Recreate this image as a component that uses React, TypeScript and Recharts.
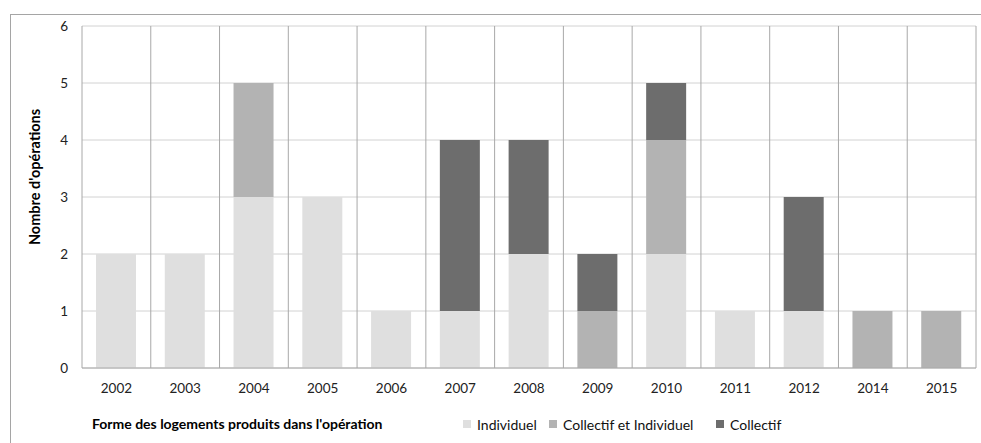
import { BarChart, Bar, XAxis, YAxis, CartesianGrid } from 'recharts'

const years = ['2002', '2003', '2004', '2005', '2006', '2007', '2008', '2009', '2010', '2011', '2012', '2014', '2015']
const individuel = [2, 2, 3, 3, 1, 1, 2, 0, 2, 1, 1, 0, 0]
const collectifEtIndividuel = [0, 0, 2, 0, 0, 0, 0, 1, 2, 0, 0, 1, 1]
const collectif = [0, 0, 0, 0, 0, 3, 2, 1, 1, 0, 2, 0, 0]
const yTicks = [0, 1, 2, 3, 4, 5, 6]

const series = [
  { key: 'individuel', name: 'Individuel', color: '#dfdfdf' },
  { key: 'collectifEtIndividuel', name: 'Collectif et Individuel', color: '#b3b3b3' },
  { key: 'collectif', name: 'Collectif', color: '#6d6d6d' },
]

// x position of each legend swatch
const legendX = [463, 549, 716]

const data = years.map((year, i) => ({
  year,
  individuel: individuel[i],
  collectifEtIndividuel: collectifEtIndividuel[i],
  collectif: collectif[i],
}))

const font = 'Lato, "Open Sans", sans-serif'

export default function App() {
  return (
    <div
      style={{
        position: 'absolute',
        left: 0,
        top: 0,
        width: 981,
        height: 443,
        background: '#fff',
        fontFamily: font,
        overflow: 'hidden',
      }}
    >
      <div
        style={{
          position: 'absolute',
          left: 10,
          top: 14,
          width: 990,
          height: 440,
          borderTop: '1.5px solid #a5a5a5',
          borderLeft: '1.5px solid #a5a5a5',
        }}
      />
      <BarChart
        width={981}
        height={443}
        data={data}
        margin={{ top: 26, right: 5, bottom: 45, left: 20 }}
        style={{ position: 'absolute', left: 0, top: 0 }}
      >
        <CartesianGrid vertical={false} stroke='#d2d2d2' />
        <CartesianGrid
          horizontal={false}
          stroke='#a8a8a8'
          verticalCoordinatesGenerator={({ offset }: any) =>
            Array.from({ length: years.length + 1 }, (_, i) => offset.left + (i * offset.width) / years.length)
          }
        />
        <XAxis
          dataKey='year'
          height={30}
          tickLine={false}
          tickSize={0}
          tickMargin={15}
          stroke='#a8a8a8'
          tick={{ fill: '#222', fontSize: 13.5, fontFamily: font }}
        />
        <YAxis
          width={62}
          domain={[0, 6]}
          ticks={yTicks}
          interval={0}
          axisLine={false}
          tickLine={false}
          tickSize={0}
          tickMargin={14}
          tick={{ fill: '#222', fontSize: 13.5, fontFamily: font }}
          label={{
            content: ({ viewBox }: any) => {
              const cx = viewBox.x + 14
              const cy = viewBox.y + viewBox.height / 2 - 20
              return (
                <text
                  x={cx}
                  y={cy}
                  transform={`rotate(-90 ${cx} ${cy})`}
                  textAnchor='middle'
                  dominantBaseline='central'
                  fontSize={14.5}
                  fontWeight='bold'
                  fontFamily={font}
                  fill='#000'
                >
                  Nombre d'opérations
                </text>
              )
            },
          }}
        />
        {series.map((s) => (
          <Bar
            key={s.key}
            dataKey={s.key}
            name={s.name}
            stackId='a'
            fill={s.color}
            barSize={40}
            isAnimationActive={false}
          />
        ))}
      </BarChart>
      <div
        style={{
          position: 'absolute',
          left: 92,
          top: 415,
          lineHeight: '18px',
          fontSize: 14,
          fontWeight: 'bold',
          color: '#000',
          whiteSpace: 'nowrap',
        }}
      >
        Forme des logements produits dans l'opération
      </div>
      {series.map((s, i) => (
        <div
          key={s.key}
          style={{
            position: 'absolute',
            left: legendX[i],
            top: 415,
            height: 18,
            display: 'flex',
            alignItems: 'center',
            fontSize: 14,
            color: '#111',
            whiteSpace: 'nowrap',
          }}
        >
          <span style={{ width: 8, height: 8, background: s.color, marginRight: 6 }} />
          {s.name}
        </div>
      ))}
    </div>
  )
}
